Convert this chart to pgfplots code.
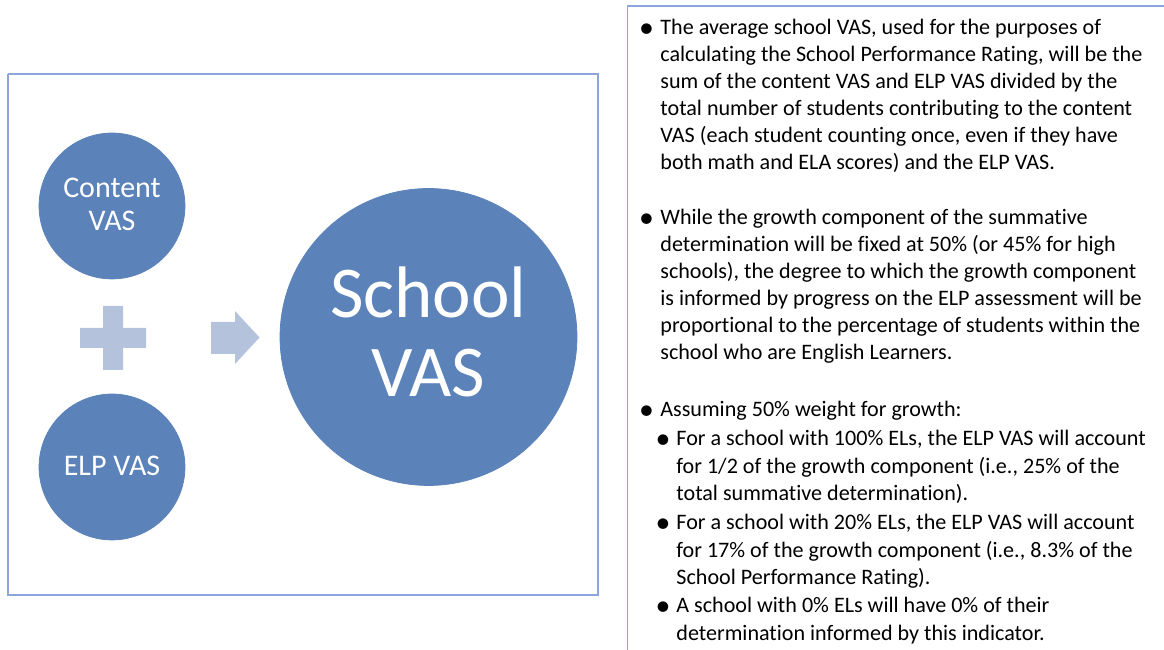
\documentclass[border=0pt]{standalone}
\usepackage{pgfplots}
\pgfplotsset{compat=1.18}
\usepackage{fontspec}
\setmainfont[Ligatures=NoCommon]{Carlito}
\definecolor{circ}{RGB}{91,130,185}
\definecolor{lite}{RGB}{180,194,219}
\definecolor{frame}{RGB}{140,166,220}
\newcommand{\bul}{\raisebox{-1.3bp}{\scalebox{1.35}{•}}}
\begin{document}
\begin{tikzpicture}
\begin{axis}[
  width=582bp, height=325bp, scale only axis,
  xmin=0, xmax=1164, ymin=0, ymax=650, y dir=reverse,
  hide axis, set layers,
]
% frames
\addplot[draw=frame, line width=0.9bp] coordinates {(8,74) (598,74) (598,595) (8,595) (8,74)};
\addplot[draw=frame, line width=0.9bp] coordinates {(627.5,650) (627.5,6) (1164,6)};
% circles
\addplot[only marks, mark=*, mark size=36.6pt, color=circ] coordinates {(112,206) (112,467)};
\addplot[only marks, mark=*, mark size=74.5pt, color=circ] coordinates {(428.5,337)};
% plus sign
\addplot[fill=lite, draw=none] coordinates {(103,306) (123,306) (123,328) (146,328) (146,348) (123,348) (123,370) (103,370) (103,348) (80,348) (80,328) (103,328) (103,306)};
% arrow
\addplot[fill=lite, draw=none] coordinates {(211,322) (235,322) (235,311) (259.5,337.5) (235,364) (235,354) (211,354) (211,322)};
% circle texts
\begin{pgfonlayer}{axis foreground}
\begin{scope}[every node/.style={text=white, inner sep=0pt, anchor=base}]
\node[font=\fontsize{15bp}{18bp}\selectfont] at (112,198) {Content};
\node[font=\fontsize{15bp}{18bp}\selectfont] at (112,231) {VAS};
\node[font=\fontsize{15bp}{18bp}\selectfont] at (112,476) {ELP VAS};
\node[font=\fontsize{36.5bp}{40bp}\selectfont] at (428.5,318) {School};
\node[font=\fontsize{36.5bp}{40bp}\selectfont] at (428.5,397) {VAS};
\end{scope}
\end{pgfonlayer}
% right text
\begin{scope}[every node/.style={inner sep=0pt, anchor=base west, font=\fontsize{11.05bp}{13.5bp}\selectfont}]
\node[anchor=base] at (646.5,35) {\bul};
\node at (660,35) {The average school VAS, used for the purposes of};
\node at (660,62) {calculating the School Performance Rating, will be the};
\node at (660,89) {sum of the content VAS and ELP VAS divided by the};
\node at (660,116) {total number of students contributing to the content};
\node at (660,143) {VAS (each student counting once, even if they have};
\node at (660,170) {both math and ELA scores) and the ELP VAS.};
\node[anchor=base] at (646.5,225) {\bul};
\node at (660,225) {While the growth component of the summative};
\node at (660,252) {determination will be fixed at 50\% (or 45\% for high};
\node at (660,279) {schools), the degree to which the growth component};
\node at (660,306) {is informed by progress on the ELP assessment will be};
\node at (660,333) {proportional to the percentage of students within the};
\node at (660,360) {school who are English Learners.};
\node[anchor=base] at (646.5,417) {\bul};
\node at (660,417) {Assuming 50\% weight for growth:};
\node[anchor=base] at (663,446) {\bul};
\node at (676,446) {For a school with 100\% ELs, the ELP VAS will account};
\node at (676,474) {for 1/2 of the growth component (i.e., 25\% of the};
\node at (676,501) {total summative determination).};
\node[anchor=base] at (663,530) {\bul};
\node at (676,530) {For a school with 20\% ELs, the ELP VAS will account};
\node at (676,558) {for 17\% of the growth component (i.e., 8.3\% of the};
\node at (676,585) {School Performance Rating).};
\node[anchor=base] at (663,613) {\bul};
\node at (676,613) {A school with 0\% ELs will have 0\% of their};
\node at (676,641) {determination informed by this indicator.};
\end{scope}
\end{axis}
\pgfresetboundingbox
\useasboundingbox (current axis.south west) rectangle (current axis.north east);
\end{tikzpicture}
\end{document}
